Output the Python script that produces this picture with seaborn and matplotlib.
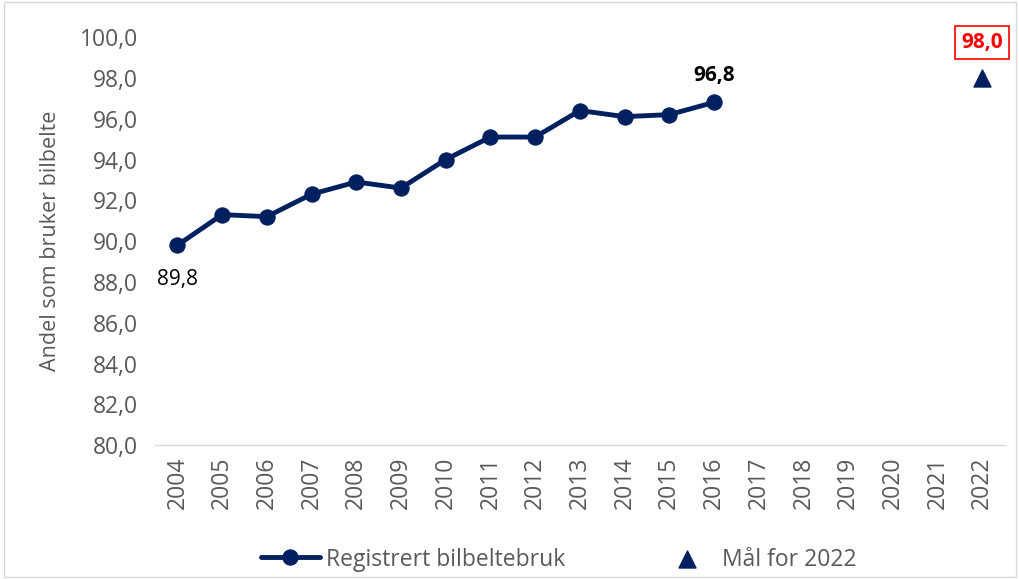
import numpy as np
import pandas as pd
import matplotlib.pyplot as plt
import seaborn as sns
from matplotlib.patches import Rectangle

sns.set_style('white')
plt.rcParams['font.family'] = ['Open Sans', 'DejaVu Sans']

years = [2004, 2005, 2006, 2007, 2008, 2009, 2010, 2011, 2012, 2013, 2014, 2015, 2016]
belt_use = [89.8, 91.3, 91.2, 92.3, 92.9, 92.6, 94.0, 95.1, 95.1, 96.4, 96.1, 96.2, 96.8]
target_year = [2022]
target_value = [98.0]
all_years = list(range(2004, 2023))

navy = '#002060'
grey = '#595959'

df = pd.DataFrame({'År': years, 'Andel': belt_use})
df_target = pd.DataFrame({'År': target_year, 'Andel': target_value})

fig, ax = plt.subplots(figsize=(10.2, 5.79), dpi=100)
fig.subplots_adjust(left=0.152, right=0.985, bottom=0.231, top=0.936)

sns.lineplot(data=df, x='År', y='Andel', ax=ax, color=navy, lw=3.5,
             marker='o', markersize=11, markeredgecolor=navy,
             label='Registrert bilbeltebruk')
sns.scatterplot(data=df_target, x='År', y='Andel', ax=ax, color=navy,
                marker='^', s=150, edgecolor=navy, label='Mål for 2022', zorder=3)

ax.set_xlim(2003.5, 2022.5)
ax.set_ylim(80, 100)
ax.set_xticks(all_years)
ax.set_xticklabels([str(y) for y in all_years], rotation=90)
ax.set_yticks(np.arange(80, 100.1, 2))
ax.set_yticklabels(['{:.1f}'.format(v).replace('.', ',') for v in np.arange(80, 100.1, 2)])
ax.tick_params(axis='both', labelsize=16.5, labelcolor=grey, length=0)
ax.tick_params(axis='y', pad=12)
ax.tick_params(axis='x', pad=8)
ax.set_xlabel('')
ax.set_ylabel('Andel som bruker bilbelte', fontsize=15.5, color=grey, labelpad=14)

for s in ['top', 'right', 'left']:
    ax.spines[s].set_visible(False)
ax.spines['bottom'].set_color('#d9d9d9')
ax.spines['bottom'].set_linewidth(1)

# data labels
ax.annotate('89,8', (years[0], belt_use[0]), xytext=(0, -32), textcoords='offset points',
            ha='center', va='bottom', fontsize=15, color='black')
ax.annotate('96,8', (years[-1], belt_use[-1]), xytext=(0, 12), textcoords='offset points',
            ha='center', va='bottom', fontsize=15, color='black', fontweight='bold')
ax.annotate('98,0', (target_year[0], target_value[0]), xytext=(0, 18), textcoords='offset points',
            ha='center', va='bottom', fontsize=15, color='#ff0000', fontweight='bold',
            bbox=dict(boxstyle='square,pad=0.3', fc='white', ec='#ff0000', lw=1.2),
            annotation_clip=False)

leg = ax.legend(loc='upper center', bbox_to_anchor=(0.475, -0.2), ncol=2, frameon=False,
                fontsize=16.5, handlelength=2.6, columnspacing=4.0, handletextpad=0.25)
for t in leg.get_texts():
    t.set_color(grey)

fig.patches.append(Rectangle((0.004, 0.004), 0.992, 0.992, transform=fig.transFigure,
                             fill=False, ec='#d9d9d9', lw=1))

fig.savefig('out.png', dpi=100)
